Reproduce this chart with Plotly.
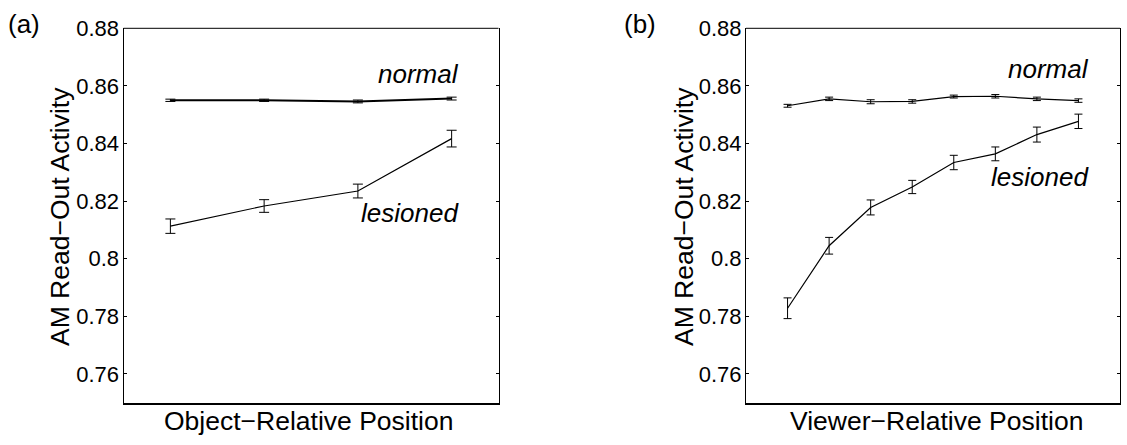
import plotly.graph_objects as go

# ---------------- data ----------------
pos_obj = [1, 2, 3, 4]
obj_normal = [0.8550, 0.8550, 0.8546, 0.8556]
obj_normal_err = [0.0004, 0.0004, 0.0005, 0.0005]
obj_lesioned = [0.8113, 0.8183, 0.8235, 0.8417]
obj_lesioned_err = [0.0025, 0.0022, 0.0024, 0.0029]

pos_view = [1, 2, 3, 4, 5, 6, 7, 8]
view_normal = [0.8531, 0.8555, 0.8545, 0.8546, 0.8563, 0.8564, 0.8555, 0.8549]
view_normal_err = [0.0005, 0.0006, 0.0007, 0.0006, 0.0005, 0.0006, 0.0006, 0.0006]
view_lesioned = [0.7828, 0.8045, 0.8178, 0.8249, 0.8334, 0.8364, 0.8431, 0.8477]
view_lesioned_err = [0.0036, 0.0029, 0.0026, 0.0023, 0.0025, 0.0024, 0.0026, 0.0025]

y_ticks = [0.76, 0.78, 0.80, 0.82, 0.84, 0.86, 0.88]
y_ticktext = ["0.76", "0.78", "0.8", "0.82", "0.84", "0.86", "0.88"]
y_range = [0.75, 0.88]
x_range_obj = [0.5, 4.5]
x_range_view = [0, 9]

y_title = "AM Read\u2212Out Activity"
x_title_obj = "Object\u2212Relative Position"
x_title_view = "Viewer\u2212Relative Position"

FONT = "Liberation Sans, Arial, Helvetica, sans-serif"
W, H = 1127, 445


def py(img_y):
    """paper fraction for a target row in the photographed image
    (the photo maps page rows 0..445 onto image rows ~12..445)."""
    page = (img_y - 12.0) / 0.973
    return 1 - page / H


fig = go.Figure()


def add_series(x, y, err, xa, ya, lw, capw):
    fig.add_trace(go.Scatter(
        x=x, y=y, mode="lines", xaxis=xa, yaxis=ya,
        line=dict(color="black", width=lw),
        error_y=dict(type="data", array=err, visible=True,
                     color="black", thickness=1, width=capw),
        showlegend=False, hoverinfo="skip"))


add_series(pos_obj, obj_normal, obj_normal_err, "x", "y", 2, 5)
add_series(pos_obj, obj_lesioned, obj_lesioned_err, "x", "y", 1.2, 5)
add_series(pos_view, view_normal, view_normal_err, "x2", "y2", 1.2, 4)
add_series(pos_view, view_lesioned, view_lesioned_err, "x2", "y2", 1.2, 4)

left_dom = [123.5 / W, 498.5 / W]
right_dom = [746 / W, 1120 / W]
y_dom = [py(402.7), py(28.3)]


def xaxis(dom, rng, anchor):
    return dict(domain=dom, range=rng, anchor=anchor, showgrid=False,
                zeroline=False, showticklabels=False, ticks="",
                showline=True, linecolor="black", linewidth=2, mirror=False)


def yaxis(rng, anchor):
    return dict(domain=y_dom, range=rng, anchor=anchor, showgrid=False,
                zeroline=False, tickvals=y_ticks, ticktext=y_ticktext,
                ticks="inside", ticklen=3, tickwidth=1, tickcolor="black",
                showline=True, linecolor="black", linewidth=1, mirror="ticks",
                tickfont=dict(family=FONT, size=22, color="black"),
                ticklabelstandoff=-1)


fig.update_layout(
    width=W, height=H, autosize=False,
    margin=dict(l=0, r=0, t=0, b=0),
    paper_bgcolor="white", plot_bgcolor="white",
    font=dict(family=FONT, color="black"),
    xaxis=xaxis(left_dom, x_range_obj, "y"),
    yaxis=yaxis(y_range, "x"),
    xaxis2=xaxis(right_dom, x_range_view, "y2"),
    yaxis2=yaxis(y_range, "x2"),
)

# thin top borders of the boxes
for xr, yr in (("x domain", "y domain"), ("x2 domain", "y2 domain")):
    fig.add_shape(type="line", xref=xr, yref=yr, x0=0, x1=1, y0=1, y1=1,
                  line=dict(color="black", width=1))

ann = []
lab_font = dict(family=FONT, size=26, color="black")
for xr, yr, x, y, t in (("x", "y", 4.10, 0.8640, "<i>normal</i>"),
                        ("x", "y", 4.10, 0.8160, "<i>lesioned</i>"),
                        ("x2", "y2", 8.30, 0.8658, "<i>normal</i>"),
                        ("x2", "y2", 8.30, 0.8285, "<i>lesioned</i>")):
    ann.append(dict(xref=xr, yref=yr, x=x, y=y, text=t, showarrow=False,
                    xanchor="right", yanchor="middle", font=lab_font))

title_font = dict(family=FONT, size=26.5, color="black")
for xc in (60, 684):
    ann.append(dict(xref="paper", yref="paper", x=xc / W, y=py(217),
                    text=y_title, textangle=-90, showarrow=False,
                    xanchor="center", yanchor="middle", font=title_font))
for xc, t in ((308, x_title_obj), (936, x_title_view)):
    ann.append(dict(xref="paper", yref="paper", x=xc / W, y=py(420.5),
                    text=t, showarrow=False, xanchor="center",
                    yanchor="middle", font=title_font))
for xc, t in ((24, "(a)"), (640, "(b)")):
    ann.append(dict(xref="paper", yref="paper", x=xc / W, y=py(24),
                    text=t, showarrow=False, xanchor="center",
                    yanchor="middle", font=dict(family=FONT, size=26, color="black")))

fig.update_layout(annotations=ann)

post = "document.body.style.margin='0';document.body.style.overflow='hidden';"

fig.write_html("out.html", config={"displayModeBar": False}, post_script=post)
